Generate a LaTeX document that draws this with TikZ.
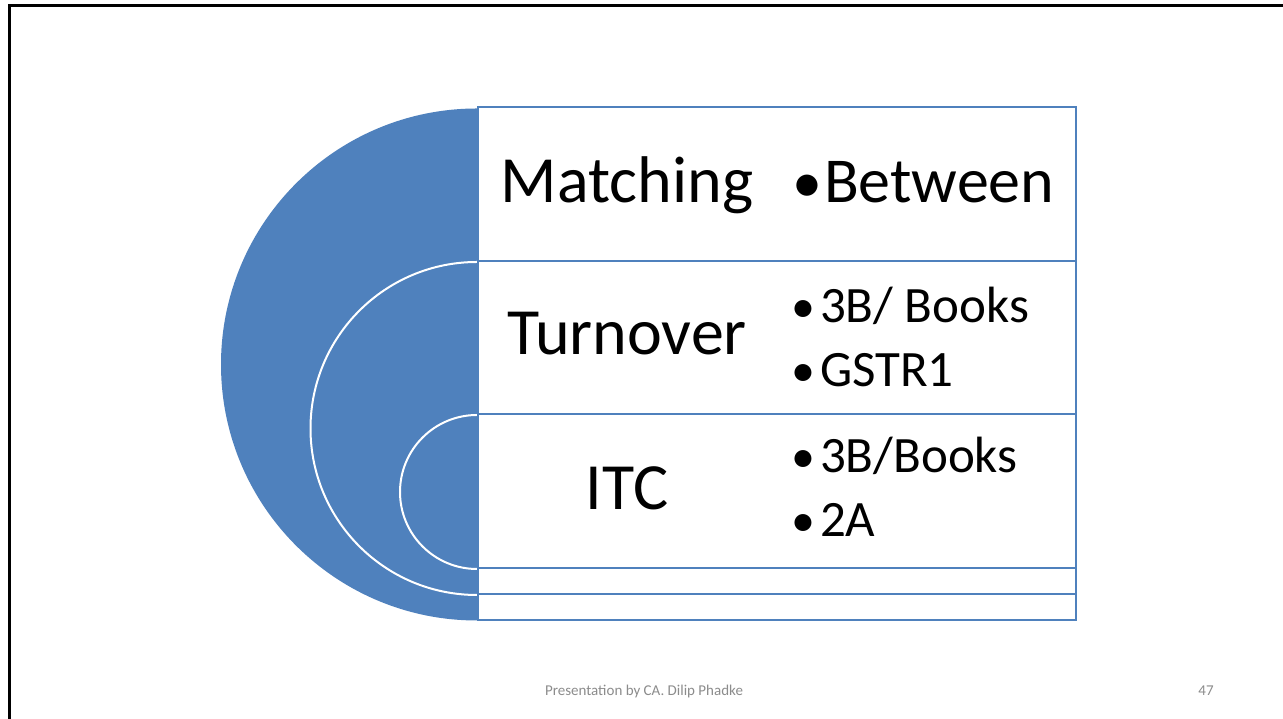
\documentclass[tikz,border=0pt]{standalone}
\usepackage{fontspec}
\setmainfont{Carlito}
\definecolor{sblue}{HTML}{4F81BD}
\definecolor{footgrey}{HTML}{8C8C8C}
\newcommand{\bigbul}{{\fontsize{60}{64}\selectfont•}}
\newcommand{\smlbul}{{\fontsize{48}{52}\selectfont•}}
\begin{document}
\begin{tikzpicture}[x=1pt,y=1pt,
  rowbox/.style={draw=sblue,line width=2,fill=white,inner sep=0,anchor=south west},
  bigtxt/.style={font=\fontsize{66}{72}\selectfont,anchor=base,inner sep=0},
  bultxt/.style={font=\fontsize{51}{56}\selectfont,anchor=base west,inner sep=0},
  foot/.style={font=\fontsize{15}{17}\selectfont,text=footgrey,anchor=base,inner sep=0}]
\useasboundingbox (0,0) rectangle (1283,719);
\fill[white] (0,0) rectangle (1283,719);
% frame
\draw[line width=3] (9,0) -- (9,713) -- (1283,713);
% outer filled half disc
\fill[sblue] (477,610.5) arc[start angle=90,end angle=270,radius=256];
% white arcs
\draw[white,line width=2] (477,457) arc[start angle=90,end angle=270,radius=166.5];
\draw[white,line width=2] (477,304) arc[start angle=90,end angle=270,radius=77];
% boxes
\node[rowbox,minimum width=598,minimum height=154] (b1) at (477,457) {};
\node[rowbox,minimum width=598,minimum height=153] (b2) at (477,304) {};
\node[rowbox,minimum width=598,minimum height=154] (b3) at (477,150) {};
\node[rowbox,minimum width=598,minimum height=26] (b4) at (477,124) {};
\node[rowbox,minimum width=598,minimum height=26] (b5) at (477,98) {};
% texts
\node[bigtxt] (t1) at (627,516) {Matching};
\node[bigtxt] (t2) at (627,364) {Turnover};
\node[bigtxt] (t3) at (627,209) {ITC};
\node[bigtxt,font=\fontsize{64}{70}\selectfont,anchor=base west] (l1) at (792,516) {\bigbul\hspace{2pt}Between};
\node[bultxt] (l2) at (791,396) {\smlbul\hspace{5pt}3B/ Books};
\node[bultxt] (l3) at (791,332) {\smlbul\hspace{5pt}GSTR1};
\node[bultxt] (l4) at (791,246) {\smlbul\hspace{5pt}3B/Books};
\node[bultxt] (l5) at (791,182) {\smlbul\hspace{5pt}2A};
% footer
\node[foot] (f1) at (644,23) {Presentation by CA. Dilip Phadke};
\node[foot] (f2) at (1206,23) {47};
\end{tikzpicture}
\end{document}
